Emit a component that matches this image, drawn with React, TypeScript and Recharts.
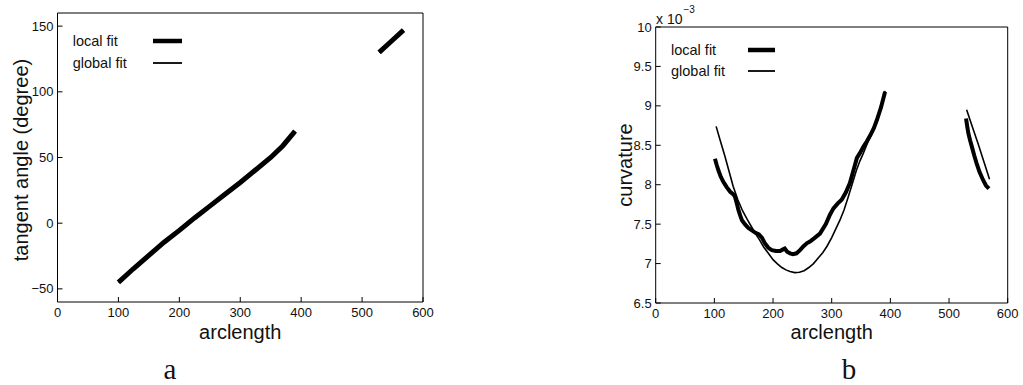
import { LineChart, Line, XAxis, YAxis, Legend, Label } from 'recharts';

const FONT = '"Liberation Sans", Arial, Helvetica, sans-serif';

const arclengthTicks = [0, 100, 200, 300, 400, 500, 600];
const angleTicks = [-50, 0, 50, 100, 150];
const curvatureTicks = [6.5, 7, 7.5, 8, 8.5, 9, 9.5, 10];
const legendNames = ['local fit', 'global fit'];

// panel a: tangent angle (degree) vs arclength
const angleArc1 = [100, 125, 150, 175, 200, 225, 250, 275, 300, 325, 350, 370, 390];
const angleLocal1 = [-45, -34.5, -24.5, -14.5, -5.5, 4, 13, 22, 31, 40.5, 50, 59, 70];
const angleGlobal1 = [-45, -34.5, -24.5, -14.5, -5.5, 4, 13, 22, 31, 40.5, 50, 59, 70];
const angleArc2 = [528, 548, 568];
const angleLocal2 = [130, 138.5, 147];
const angleGlobal2 = [130, 138.5, 147];

// panel b: curvature (x 10^-3) vs arclength
const curvLocalArc1 = [
  101, 104, 107, 111, 115, 121, 127, 132, 135, 138, 141, 144, 147, 152, 158, 164, 170, 176,
  181, 186, 192, 198, 205, 212, 217, 220, 224, 229, 234, 240, 246, 252, 258, 263, 270, 280,
  290, 297, 303, 310, 317, 324, 331, 337, 343, 348, 354, 360, 366, 372, 377, 384, 391,
];
const curvLocal1 = [
  8.33, 8.25, 8.18, 8.1, 8.04, 7.97, 7.91, 7.88, 7.85, 7.77, 7.68, 7.61, 7.55, 7.5, 7.45, 7.42,
  7.39, 7.37, 7.33, 7.26, 7.2, 7.17, 7.16, 7.16, 7.18, 7.19, 7.15, 7.13, 7.12, 7.13, 7.17,
  7.22, 7.26, 7.28, 7.32, 7.38, 7.5, 7.62, 7.7, 7.76, 7.81, 7.9, 8.02, 8.18, 8.34, 8.4, 8.48,
  8.55, 8.63, 8.72, 8.82, 8.98, 9.18,
];
const curvLocalArc2 = [529, 531, 533, 536, 539, 543, 547, 552, 558, 563, 568];
const curvLocal2 = [8.84, 8.74, 8.65, 8.56, 8.48, 8.37, 8.27, 8.16, 8.06, 7.99, 7.95];

const curvGlobalArc1 = [
  103, 110, 118, 125, 132, 140, 148, 156, 163, 170, 177, 184, 192, 200, 207, 215, 222, 229,
  237, 245, 253, 261, 269, 277, 285, 292, 300, 307, 314, 321, 328, 335, 342, 348, 354, 361,
  368, 375, 383, 391,
];
const curvGlobal1 = [
  8.74, 8.56, 8.36, 8.17, 7.98, 7.81, 7.67, 7.56, 7.47, 7.38, 7.3, 7.21, 7.13, 7.05, 7.0, 6.95,
  6.92, 6.9, 6.885, 6.89, 6.91, 6.95, 7.0, 7.07, 7.14, 7.22, 7.33, 7.44, 7.55, 7.68, 7.84, 8.01,
  8.18, 8.3, 8.4, 8.53, 8.65, 8.78, 8.97, 9.19,
];
const curvGlobalArc2 = [530, 540, 550, 560, 569];
const curvGlobal2 = [8.95, 8.73, 8.51, 8.28, 8.07];

const pts = (xs: number[], ys: number[]) => xs.map((x, i) => ({ x, y: ys[i] }));

const tickStyle = { fontSize: 13, fill: '#111', fontFamily: FONT };

const legendWidths: Record<string, number> = { 'local fit': 4.5, 'global fit': 1.8 };

// fixed order, only the two main series
const makeLegend = (rowH: number, textW: number, lineW: number) => () => (
  <div style={{ fontFamily: FONT, fontSize: 14.5, color: '#111' }}>
    {legendNames.map((name) => (
      <div key={name} style={{ display: 'flex', alignItems: 'center', height: rowH }}>
        <span style={{ width: textW, whiteSpace: 'nowrap' }}>{name}</span>
        <svg width={lineW} height={8}>
          <line x1={0} y1={4} x2={lineW} y2={4} stroke="#000" strokeWidth={legendWidths[name]} />
        </svg>
      </div>
    ))}
  </div>
);

const yTitle = (text: string, x: number, y: number) => () => (
  <text
    x={x}
    y={y}
    transform={`rotate(-90, ${x}, ${y})`}
    textAnchor="middle"
    fontSize={20}
    fontFamily={FONT}
    fill="#111"
  >
    {text}
  </text>
);

const blank = () => '';
const minusFmt = (v: number) => (v < 0 ? `\u2212${-v}` : `${v}`);

function App() {
  return (
    <div
      style={{
        position: 'absolute',
        left: 0,
        top: 0,
        width: 1023,
        height: 385,
        background: '#fff',
      }}
    >
      <div style={{ position: 'absolute', left: 0, top: 0 }}>
        <LineChart width={440} height={385} margin={{ top: 12, right: 16, bottom: 62, left: 0 }}>
          <XAxis
            type="number"
            dataKey="x"
            domain={[0, 600]}
            ticks={arclengthTicks}
            interval={0}
            height={21}
            tickSize={-5}
            tickMargin={11}
            stroke="#000"
            tick={tickStyle}
          >
            <Label value="arclength" position="bottom" offset={1.5} fontSize={20} fontFamily={FONT} fill="#111" />
          </XAxis>
          <XAxis
            xAxisId="top"
            orientation="top"
            type="number"
            domain={[0, 600]}
            ticks={arclengthTicks}
            interval={0}
            height={1}
            tickSize={-5}
            tickFormatter={blank}
            stroke="#000"
          />
          <YAxis
            type="number"
            domain={[-60, 160]}
            ticks={angleTicks}
            interval={0}
            width={57.5}
            tickSize={-5}
            tickMargin={9}
            tickFormatter={minusFmt}
            stroke="#000"
            tick={tickStyle}
          >
            <Label content={yTitle('tangent angle (degree)', 27.5, 160)} />
          </YAxis>
          <YAxis
            yAxisId="right"
            orientation="right"
            type="number"
            domain={[-60, 160]}
            ticks={angleTicks}
            interval={0}
            width={1}
            tickSize={-5}
            tickFormatter={blank}
            stroke="#000"
          />
          <Line data={pts(angleArc1, angleLocal1)} dataKey="y" name="local fit" stroke="#000" strokeWidth={5} dot={false} isAnimationActive={false} />
          <Line data={pts(angleArc2, angleLocal2)} dataKey="y" name="local fit (2)" stroke="#000" strokeWidth={5} dot={false} isAnimationActive={false} />
          <Line data={pts(angleArc1, angleGlobal1)} dataKey="y" name="global fit" stroke="#000" strokeWidth={1.6} dot={false} isAnimationActive={false} />
          <Line data={pts(angleArc2, angleGlobal2)} dataKey="y" name="global fit (2)" stroke="#000" strokeWidth={1.6} dot={false} isAnimationActive={false} />
          <Legend
            layout="vertical"
            align="center"
            verticalAlign="middle"
            content={makeLegend(22, 80, 29)}
            wrapperStyle={{ top: 30, left: 72.7, width: 'auto', height: 'auto' }}
          />
        </LineChart>
      </div>

      <div style={{ position: 'absolute', left: 560, top: 0 }}>
        <LineChart width={463} height={385} margin={{ top: 26, right: 14.3, bottom: 62, left: 0 }}>
          <XAxis
            type="number"
            dataKey="x"
            domain={[0, 600]}
            ticks={arclengthTicks}
            interval={0}
            height={20}
            tickSize={-5}
            tickMargin={11}
            stroke="#000"
            tick={tickStyle}
          >
            <Label value="arclength" position="bottom" offset={1.5} fontSize={20} fontFamily={FONT} fill="#111" />
          </XAxis>
          <XAxis
            xAxisId="top"
            orientation="top"
            type="number"
            domain={[0, 600]}
            ticks={arclengthTicks}
            interval={0}
            height={1}
            tickSize={-5}
            tickFormatter={blank}
            stroke="#000"
          >
            <Label
              content={() => (
                <text x={96} y={24} fontSize={14} fontFamily={FONT} fill="#111">
                  x 10
                  <tspan dx={1} dy={-11} fontSize={10}>
                    −3
                  </tspan>
                </text>
              )}
            />
          </XAxis>
          <YAxis
            type="number"
            domain={[6.5, 10]}
            ticks={curvatureTicks}
            interval={0}
            width={95.7}
            tickSize={-5}
            tickMargin={9}
            stroke="#000"
            tick={tickStyle}
          >
            <Label content={yTitle('curvature', 71.5, 165)} />
          </YAxis>
          <YAxis
            yAxisId="right"
            orientation="right"
            type="number"
            domain={[6.5, 10]}
            ticks={curvatureTicks}
            interval={0}
            width={1}
            tickSize={-5}
            tickFormatter={blank}
            stroke="#000"
          />
          <Line data={pts(curvLocalArc1, curvLocal1)} dataKey="y" name="local fit" stroke="#000" strokeWidth={4} dot={false} isAnimationActive={false} />
          <Line data={pts(curvLocalArc2, curvLocal2)} dataKey="y" name="local fit (2)" stroke="#000" strokeWidth={4} dot={false} isAnimationActive={false} />
          <Line data={pts(curvGlobalArc1, curvGlobal1)} dataKey="y" name="global fit" stroke="#000" strokeWidth={1.6} dot={false} isAnimationActive={false} />
          <Line data={pts(curvGlobalArc2, curvGlobal2)} dataKey="y" name="global fit (2)" stroke="#000" strokeWidth={1.6} dot={false} isAnimationActive={false} />
          <Legend
            layout="vertical"
            align="center"
            verticalAlign="middle"
            content={makeLegend(21, 77, 27)}
            wrapperStyle={{ top: 39.5, left: 111, width: 'auto', height: 'auto' }}
          />
        </LineChart>
      </div>

      <svg
        width={1023}
        height={385}
        style={{ position: 'absolute', left: 0, top: 0, pointerEvents: 'none' }}
      >
        <text x={170} y={379} textAnchor="middle" fontSize={29} fontFamily='"Liberation Serif", serif' fill="#111">
          a
        </text>
        <text x={849} y={379} textAnchor="middle" fontSize={29} fontFamily='"Liberation Serif", serif' fill="#111">
          b
        </text>
      </svg>
    </div>
  );
}

export default App;
